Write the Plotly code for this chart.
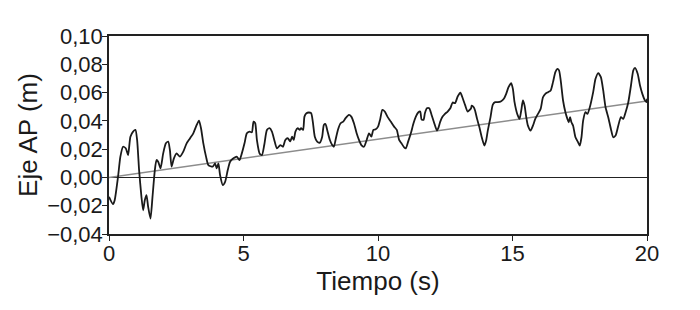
import plotly.graph_objects as go

# Signal (time in s, AP axis displacement in m)
t_vals = [0.0, 0.149, 0.211, 0.336, 0.423, 0.522, 0.622, 0.709, 0.796, 0.896, 0.983, 1.045, 1.119, 1.206,
          1.269, 1.331, 1.393, 1.455, 1.542, 1.617, 1.704, 1.766, 1.828, 1.915, 2.015, 2.114, 2.201, 2.264,
          2.326, 2.413, 2.512, 2.637, 2.761, 2.886, 3.010, 3.134, 3.259, 3.346, 3.420, 3.507, 3.607, 3.694,
          3.856, 3.943, 4.005, 4.067, 4.129, 4.229, 4.316, 4.415, 4.502, 4.627, 4.751, 4.851, 4.938, 5.037,
          5.124, 5.224, 5.311, 5.373, 5.435, 5.498, 5.597, 5.684, 5.771, 5.871, 5.970, 6.057, 6.144, 6.244,
          6.368, 6.468, 6.555, 6.642, 6.741, 6.805, 6.868, 6.930, 7.017, 7.091, 7.141, 7.216, 7.266, 7.340,
          7.427, 7.514, 7.576, 7.651, 7.738, 7.838, 7.925, 7.987, 8.049, 8.111, 8.211, 8.298, 8.360, 8.422,
          8.509, 8.609, 8.708, 8.795, 8.920, 9.007, 9.106, 9.206, 9.293, 9.380, 9.479, 9.579, 9.666, 9.753,
          9.828, 9.915, 10.002, 10.076, 10.163, 10.251, 10.350, 10.474, 10.599, 10.698, 10.785, 10.872,
          10.972, 11.034, 11.121, 11.221, 11.320, 11.407, 11.494, 11.569, 11.619, 11.693, 11.743, 11.818,
          11.905, 11.992, 12.091, 12.191, 12.241, 12.315, 12.402, 12.489, 12.589, 12.688, 12.775, 12.863,
          12.962, 13.062, 13.149, 13.236, 13.335, 13.460, 13.484, 13.559, 13.608, 13.683, 13.770, 13.857,
          13.957, 14.019, 14.081, 14.181, 14.268, 14.355, 14.454, 14.579, 14.678, 14.765, 14.852, 14.952,
          15.014, 15.076, 15.176, 15.263, 15.325, 15.387, 15.449, 15.511, 15.574, 15.673, 15.760, 15.847,
          15.947, 16.046, 16.133, 16.220, 16.320, 16.419, 16.506, 16.593, 16.668, 16.730, 16.792, 16.879,
          16.967, 17.041, 17.091, 17.141, 17.190, 17.253, 17.340, 17.439, 17.501, 17.564, 17.626, 17.713,
          17.787, 17.874, 17.999, 18.086, 18.185, 18.285, 18.372, 18.459, 18.559, 18.658, 18.745, 18.832,
          18.932, 19.031, 19.118, 19.205, 19.305, 19.404, 19.491, 19.554, 19.653, 19.740, 19.827, 19.927,
          19.989, 20.0]
ap_vals = [-0.0137, -0.0189, -0.0161, 0.0005, 0.0147, 0.0217, 0.0206, 0.0158, 0.0288, 0.0324, 0.0336, 0.0265,
           0.0052, -0.0137, -0.0232, -0.0161, -0.0125, -0.0208, -0.0291, -0.0137, 0.0052, 0.0123, 0.0111,
           0.0064, 0.0170, 0.0241, 0.0253, 0.0194, 0.0076, 0.0135, 0.0170, 0.0147, 0.0182, 0.0241, 0.0276,
           0.0312, 0.0371, 0.0402, 0.0348, 0.0241, 0.0147, 0.0087, 0.0076, 0.0099, 0.0064, 0.0099, 0.0017,
           -0.0054, -0.0031, 0.0052, 0.0111, 0.0135, 0.0147, 0.0123, 0.0170, 0.0241, 0.0312, 0.0324, 0.0319,
           0.0395, 0.0383, 0.0265, 0.0170, 0.0158, 0.0229, 0.0335, 0.0348, 0.0324, 0.0265, 0.0205, 0.0229,
           0.0217, 0.0265, 0.0277, 0.0255, 0.0288, 0.0265, 0.0324, 0.0348, 0.0336, 0.0348, 0.0336, 0.0430,
           0.0454, 0.0459, 0.0454, 0.0395, 0.0288, 0.0253, 0.0246, 0.0288, 0.0371, 0.0378, 0.0336, 0.0265,
           0.0229, 0.0217, 0.0265, 0.0336, 0.0383, 0.0395, 0.0419, 0.0442, 0.0430, 0.0383, 0.0312, 0.0265,
           0.0229, 0.0217, 0.0265, 0.0312, 0.0288, 0.0336, 0.0340, 0.0359, 0.0407, 0.0478, 0.0466, 0.0430,
           0.0395, 0.0359, 0.0336, 0.0265, 0.0241, 0.0213, 0.0206, 0.0253, 0.0312, 0.0383, 0.0430, 0.0459,
           0.0466, 0.0411, 0.0407, 0.0454, 0.0489, 0.0489, 0.0442, 0.0383, 0.0331, 0.0348, 0.0395, 0.0430,
           0.0449, 0.0466, 0.0489, 0.0530, 0.0525, 0.0572, 0.0600, 0.0560, 0.0513, 0.0466, 0.0489, 0.0508,
           0.0496, 0.0473, 0.0414, 0.0355, 0.0284, 0.0225, 0.0260, 0.0331, 0.0425, 0.0515, 0.0532, 0.0532,
           0.0539, 0.0556, 0.0591, 0.0638, 0.0667, 0.0626, 0.0532, 0.0449, 0.0414, 0.0473, 0.0544, 0.0508,
           0.0426, 0.0366, 0.0331, 0.0366, 0.0414, 0.0449, 0.0485, 0.0567, 0.0591, 0.0603, 0.0615, 0.0674,
           0.0745, 0.0768, 0.0757, 0.0686, 0.0544, 0.0461, 0.0414, 0.0390, 0.0426, 0.0390, 0.0366, 0.0284,
           0.0248, 0.0225, 0.0284, 0.0402, 0.0461, 0.0449, 0.0496, 0.0603, 0.0697, 0.0738, 0.0709, 0.0615,
           0.0496, 0.0426, 0.0343, 0.0284, 0.0296, 0.0366, 0.0426, 0.0414, 0.0461, 0.0532, 0.0650, 0.0757,
           0.0775, 0.0733, 0.0650, 0.0591, 0.0544, 0.0532, 0.0556]

# Linear trend line
trend_t = [0, 20]
trend_v = [0.0, 0.054]

x_ticks = [0, 5, 10, 15, 20]
y_ticks = [-0.04, -0.02, 0.0, 0.02, 0.04, 0.06, 0.08, 0.10]

FONT = "Liberation Sans, Arial, sans-serif"

fig = go.Figure()
fig.add_trace(go.Scatter(x=trend_t, y=trend_v, mode="lines",
                         line=dict(color="#8c8c8c", width=1.5), showlegend=False))
fig.add_trace(go.Scatter(x=t_vals, y=ap_vals, mode="lines",
                         line=dict(color="#1a1a1a", width=1.8, shape="spline", smoothing=0.6),
                         showlegend=False))

fig.update_layout(
    width=700, height=310,
    margin=dict(l=101, r=61, t=28, b=84),
    paper_bgcolor="white", plot_bgcolor="white",
    separators=",.",
    font=dict(family=FONT, size=22, color="#1a1a1a"),
    xaxis=dict(range=[0, 20], tickvals=x_ticks, ticks="outside", ticklen=5, tickwidth=1.2,
               tickcolor="#222", showline=True, linecolor="#222", linewidth=1.5, mirror=True,
               showgrid=False, zeroline=False, automargin=False, ticklabelstandoff=-6,
               title=dict(text="Tiempo (s)", standoff=0),
               tickfont=dict(size=22)),
    yaxis=dict(range=[-0.04, 0.10], tickvals=y_ticks, tickformat=".2f", ticks="outside",
               ticklen=5, tickwidth=1.2, tickcolor="#222", showline=True, linecolor="#222",
               linewidth=1.5, mirror=True, showgrid=False, zeroline=True, zerolinecolor="#222",
               zerolinewidth=1.2, automargin=False, ticklabelstandoff=-5,
               title=dict(text="Eje AP (m)", standoff=2),
               tickfont=dict(size=22)),
)

fig.write_html("out.html")
